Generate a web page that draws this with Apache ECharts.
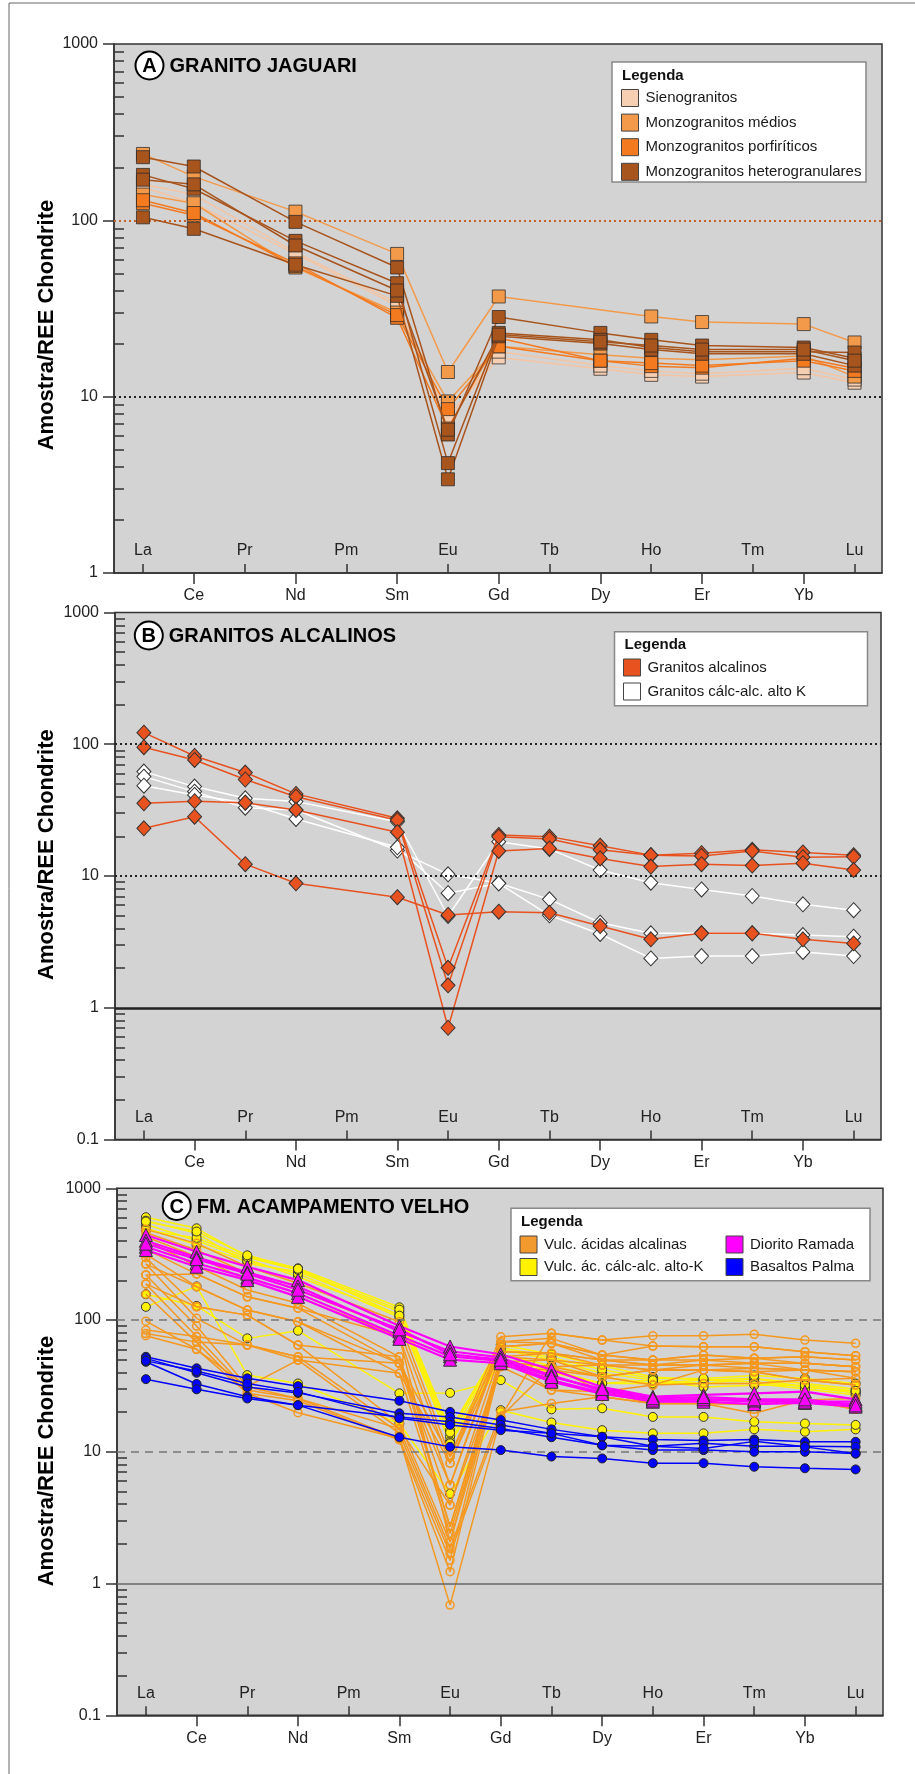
<!DOCTYPE html>
<html><head><meta charset="utf-8">
<script src="https://cdn.jsdelivr.net/npm/echarts@6/dist/echarts.min.js"></script>
<style>html,body{margin:0;padding:0;background:#fff}#c{width:915px;height:1774px}</style>
</head><body><div id="c"></div>
<script>
// ---------- DATA ----------
const REE = ['La','Ce','Pr','Nd','Pm','Sm','Eu','Gd','Tb','Dy','Ho','Er','Tm','Yb','Lu'];
const TOP_ROW = [0,2,4,6,8,10,12,14];      // labels drawn inside the plot
const BOTTOM_ROW = [1,3,5,7,9,11,13];      // labels drawn below the axis
const Y_LABELS_A = [1,10,100,1000];
const Y_LABELS_BC = [0.1,1,10,100,1000];

// Panel A : Granito Jaguari
const A_ELEMENTS = ['La','Ce','Nd','Sm','Eu','Gd','Dy','Ho','Er','Yb','Lu'];
const A_sienogranitos = [
  [154,125,64.5,32.8,7.7,16.7,14.4,13.3,13.0,13.7,12.0],
  [160,140,66,34,7.5,18.0,15.0,14.0,13.5,14.5,12.5]
];
const A_monzo_medios = [
  [238,177,112,64.5,13.8,37,null,28.5,26.5,25.8,20.3],
  [140,125,54,30,9.4,19.3,17.3,16.5,16.2,17.0,13.0]
];
const A_monzo_porfiriticos = [
  [125,107,57,28,6.6,21.5,16.0,14.9,14.6,16.5,14.5],
  [130,110,55,29,8.5,19.3,16.0,15.5,15.0,16.0,14.0]
];
const A_monzo_hetero = [
  [228,202,98,54,6.1,28.3,23,21,19.5,19,16.5],
  [181,151,76.5,44,4.2,23,21,19,18,18,17.8],
  [104,89.5,56,37.3,3.4,22,20,18.5,17.5,17.5,15],
  [170,160,72,40,6.5,22.5,20.5,19.5,18.5,18.5,16]
];

// Panel B : Granitos alcalinos
const BC_ELEMENTS = ['La','Ce','Pr','Nd','Sm','Eu','Gd','Tb','Dy','Ho','Er','Tm','Yb','Lu'];
const B_alcalinos = [
  [122.5,81.5,61,42,27.4,2.01,20.5,19.9,17,14.4,14.9,15.8,15.1,14.4],
  [95,76,54,40,26.5,1.48,19.9,19.1,15.8,14.4,14.2,15.5,13.9,14],
  [35.6,37,36,31.7,21.5,0.705,15.5,16.2,13.6,11.8,12.3,12,12.5,11.1],
  [23,28.2,12.3,8.8,6.9,5.06,5.36,5.26,4.17,3.31,3.67,3.67,3.31,3.08]
];
const B_calcalc_altoK = [
  [62,47.7,38.9,36.7,25.8,4.97,18.2,16,11.1,8.9,7.9,7.05,6.1,5.5],
  [56.8,43.7,33,31.7,15.6,10.3,8.8,6.65,4.42,3.67,3.67,3.67,3.56,3.46],
  [48.5,41.2,36,27.1,16.5,7.4,8.8,5.03,3.63,2.37,2.47,2.47,2.65,2.47]
];

// Panel C : Fm. Acampamento Velho
const C_acidas_alcalinas = [
  [488,382,254,190,97,9.2,74.7,79.3,70.5,76,76,77.9,70.5,66.6],
  [460,340,226,169,84,8.2,68.4,72.6,54.2,63.5,62.7,62.7,57.5,53.6],
  [429,303,201,150,75,5.6,62.7,66.6,49.7,49.7,54.2,51.2,52.6,49.7],
  [405,257,169,134,52.6,3.94,57.5,55.9,45.5,45.5,49.7,46.9,46.9,44.2],
  [344,224,150,123,46.9,2.7,52.6,49.7,37.1,41.7,45.5,43,41.7,40.5],
  [317,179,119,97,39.4,2.4,48.2,44.2,28.6,32.1,41.7,40.5,35,36.1],
  [297,126,109,64.6,16.4,2.07,44.2,29.4,26.2,23.3,23.3,19.6,24.7,25.4],
  [266,103,64.6,52.6,15,1.85,20.1,23.3,26.2,23.3,23.3,23,24.7,21],
  [220,90,31.2,49.7,13.8,1.69,18.4,44.2,45.5,41.7,41.7,40.5,35,32.1],
  [188,75,29.4,25.4,12.6,1.5,52.6,55.9,49.7,45.5,45.5,46.9,41.7,36.1],
  [157,68,27.8,24.4,12.3,1.23,48.2,49.7,45.5,41.7,41.7,43,41.7,40.5],
  [98,60,27.8,19.8,12.6,0.686,18.4,79.3,70.5,63.5,62.7,62.7,57.5,53.6],
  [84,75,64.6,52.6,46.9,9.2,62.7,66.6,54.2,49.7,49.7,51.2,46.9,44.2],
  [79,68,64.6,49.7,39.4,8.2,57.5,55.9,49.7,45.5,45.5,46.9,46.9,44.2],
  [76,60,31.2,25.4,15,3.94,44.2,41.7,37.1,32.1,33,33,35,32.1],
  [266,179,119,97,46.9,5.6,68.4,66.6,54.2,49.7,54.2,51.2,52.6,49.7],
  [188,126,109,64.6,52.6,2.7,48.2,44.2,37.1,41.7,41.7,40.5,41.7,40.5],
  [220,224,150,123,75,2.07,52.6,29.4,28.6,23.3,23.3,23,24.7,21]
];
const C_calcalc_altoK = [
  [603,497,303,247,125,14.6,65,55,45,37,35,36,31,28.6],
  [568,455,269,233,116,13,60,50,39.4,35,33,36,33,30],
  [533,400,290,213,110,12,55,45,37,33,35,34,31.2,28],
  [500,371,280,225,105,11.6,50,41.7,33,33,33,33,30,27],
  [126,180,38.2,33,16.4,4.8,20.7,16.7,14.6,13.8,13.8,14.8,14.2,14.8],
  [157,128,72.6,83,27.8,28,35,21,21.4,18.4,18.4,16.9,16.4,16],
  [480,420,300,240,120,14,62,52,42,36,36,38,36,33],
  [560,470,310,245,108,11.6,48,40,33,35,31,32,32,29]
];
const C_diorito_ramada = [
  [442,330,254,201,90,63,55,42,31,26.2,27,27.8,28.6,25],
  [400,300,230,180,82,58,52,38,29,25,25,24,24,23],
  [360,270,210,160,76,53,49,35,28,24,24,23,23.5,22],
  [340,254,201,150,72,50,47,34,27.5,24.5,25,24.5,24,24],
  [380,290,225,170,85,55,50,37,30,25.5,26,25,25,22.5]
];
const C_basaltos_palma = [
  [52.6,43,36.1,31.5,24.4,20.1,17.4,14.8,13,12.4,12.2,12.4,11.9,11.9],
  [51.2,39.8,31,28,19.6,18.4,16,13.8,13,11,11.6,11,11,10.9],
  [48.2,32.7,26.2,22.6,18.4,16.9,15,12.9,11.2,10.3,10.3,10,10,9.7],
  [49,41,33,28.5,18,16,14.6,13.8,11.2,11,10.6,12,10.9,9.7],
  [35.6,29.8,25.4,22.6,12.9,10.9,10.3,9.2,8.9,8.2,8.2,7.7,7.5,7.35]
];

// ---------- CHART ----------
const FF = "'Liberation Sans', Arial, Helvetica, sans-serif";
const chart = echarts.init(document.getElementById('c'), null, {renderer:'canvas', width:915, height:1774});

const PANELS = [
  {left:114, top:44,    width:768, height:529, ymin:1,   ylabels:Y_LABELS_A},
  {left:115, top:612.5, width:766, height:527, ymin:0.1, ylabels:Y_LABELS_BC},
  {left:117, top:1188.3,width:766, height:527, ymin:0.1, ylabels:Y_LABELS_BC}
];
function minorTicks(min, max){
  const out=[];
  for(let e=Math.round(Math.log10(min)); e<Math.round(Math.log10(max)); e++){
    for(let k=2;k<=9;k++) out.push(+(k*Math.pow(10,e)).toPrecision(3));
  }
  return out;
}
const grid=[], xAxis=[], yAxis=[];
PANELS.forEach((p,g)=>{
  grid.push({left:p.left, top:p.top, width:p.width, height:p.height, show:true,
    backgroundColor:'#d3d3d3', borderColor:'#333', borderWidth:1.5, containLabel:false});
  const fmt = v => REE[Math.round(v)];
  xAxis.push({gridIndex:g, type:'value', min:-0.57, max:14.54, position:'bottom',
    axisLine:{show:true, onZero:false, lineStyle:{color:'#333', width:1.5}},
    axisTick:{show:true, inside:true, length:9, customValues:TOP_ROW, lineStyle:{color:'#333', width:1.5}},
    axisLabel:{show:true, inside:true, margin:14, customValues:TOP_ROW, formatter:fmt,
      fontSize:16, color:'#222', fontFamily:FF},
    splitLine:{show:false}});
  xAxis.push({gridIndex:g, type:'value', min:-0.57, max:14.54, position:'bottom',
    axisLine:{show:false, onZero:false},
    axisTick:{show:true, inside:false, length:11, customValues:BOTTOM_ROW, lineStyle:{color:'#333', width:1.5}},
    axisLabel:{show:true, inside:false, margin:15, customValues:BOTTOM_ROW, formatter:fmt,
      fontSize:16, color:'#222', fontFamily:FF},
    splitLine:{show:false}});
  yAxis.push({gridIndex:g, type:'log', logBase:10, min:p.ymin, max:1000, position:'left',
    axisLine:{show:true, onZero:false, lineStyle:{color:'#333', width:1.5}},
    axisTick:{show:true, inside:false, length:11, customValues:p.ylabels, lineStyle:{color:'#333', width:1.5}},
    axisLabel:{show:true, margin:16, customValues:p.ylabels, fontSize:16, color:'#222', fontFamily:FF,
      formatter: v => v>=1 ? String(Math.round(v)) : v.toFixed(1)},
    splitLine:{show:false}});
  yAxis.push({gridIndex:g, type:'log', logBase:10, min:p.ymin, max:1000, position:'left',
    axisLine:{show:false, onZero:false},
    axisTick:{show:true, inside:true, length:10, customValues:minorTicks(p.ymin,1000), lineStyle:{color:'#333', width:1.5}},
    axisLabel:{show:false}, splitLine:{show:false}});
});

const series=[];
function refLines(g, lines){
  series.push({type:'line', xAxisIndex:2*g, yAxisIndex:2*g, data:[], silent:true, z:1,
    markLine:{silent:true, symbol:['none','none'], label:{show:false}, animation:false,
      data: lines.map(l=>({yAxis:l.v, lineStyle:l.style}))}});
}
function addGroup(g, name, samples, elements, st){
  samples.forEach(s=>{
    series.push({type:'line', name, xAxisIndex:2*g, yAxisIndex:2*g,
      data: s.map((v,i)=> v==null?null:[REE.indexOf(elements[i]), v]).filter(d=>d),
      symbol:st.symbol, symbolSize:st.size, showSymbol:true,
      itemStyle:{color:st.fill, borderColor:st.border, borderWidth:st.bw},
      lineStyle:{color:st.line, width:st.lw},
      emphasis:{disabled:true}, z:st.z});
  });
}
// reference lines
refLines(0,[{v:100, style:{color:'#c4622a', type:[2,3], width:1.8}},
            {v:10,  style:{color:'#222',    type:[2,3], width:1.8}}]);
refLines(1,[{v:100, style:{color:'#222', type:[2,3], width:1.8}},
            {v:10,  style:{color:'#222', type:[2,3], width:1.8}},
            {v:1,   style:{color:'#222', type:'solid', width:2.5}}]);
refLines(2,[{v:100, style:{color:'#777', type:[8,6], width:1.5}},
            {v:10,  style:{color:'#777', type:[8,6], width:1.5}},
            {v:1,   style:{color:'#666', type:'solid', width:1.5}}]);

const COL = {
  sieno:'#f6cfb3', medio:'#f39a4a', porf:'#f47a1f', hetero:'#a8541d',
  alc:'#e8521f', calc:'#ffffff',
  acid:'#f5981f', yel:'#fff200', mag:'#ff00ff', blue:'#0000ff'
};
const SQ = {symbol:'rect', size:13, border:'rgba(40,40,40,0.75)', bw:1, lw:1.5};
addGroup(0,'Sienogranitos', A_sienogranitos, A_ELEMENTS, {...SQ, fill:COL.sieno, line:'#f5c4a2', z:3});
addGroup(0,'Monzogranitos médios', A_monzo_medios, A_ELEMENTS, {...SQ, fill:COL.medio, line:COL.medio, z:4});
addGroup(0,'Monzogranitos porfiríticos', A_monzo_porfiriticos, A_ELEMENTS, {...SQ, fill:COL.porf, line:COL.porf, z:4});
addGroup(0,'Monzogranitos heterogranulares', A_monzo_hetero, A_ELEMENTS, {...SQ, fill:COL.hetero, line:COL.hetero, z:5});

const DI = {symbol:'diamond', size:[14,15], border:'#333', bw:1, lw:1.5};
addGroup(1,'Granitos cálc-alc. alto K', B_calcalc_altoK, BC_ELEMENTS, {...DI, fill:'#fff', line:'#fff', z:3});
addGroup(1,'Granitos alcalinos', B_alcalinos, BC_ELEMENTS, {...DI, fill:COL.alc, line:COL.alc, z:4});

addGroup(2,'Vulc. ác. cálc-alc. alto-K', C_calcalc_altoK, BC_ELEMENTS,
  {symbol:'circle', size:9, fill:COL.yel, border:'#333', bw:1, line:COL.yel, lw:1.5, z:3});
addGroup(2,'Vulc. ácidas alcalinas', C_acidas_alcalinas, BC_ELEMENTS,
  {symbol:'circle', size:8, fill:'rgba(0,0,0,0)', border:COL.acid, bw:1.5, line:COL.acid, lw:1.5, z:4});
addGroup(2,'Basaltos Palma', C_basaltos_palma, BC_ELEMENTS,
  {symbol:'circle', size:9, fill:COL.blue, border:'#222', bw:1, line:COL.blue, lw:1.5, z:5});
addGroup(2,'Diorito Ramada', C_diorito_ramada, BC_ELEMENTS,
  {symbol:'triangle', size:13, fill:COL.mag, border:'#333', bw:1, line:COL.mag, lw:2.2, z:6});

// legends
const LT = {fontSize:15, color:'#1a1a1a', fontFamily:FF, padding:[0,0,0,2]};
function leg(left, top, gap, items){
  return {left, top, orient:'vertical', itemWidth:17, itemHeight:17, itemGap:gap, padding:0,
    icon:'rect', selectedMode:false, textStyle:LT, z:120,
    data: items.map(it=>({name:it[0], icon:'rect',
      itemStyle:{color:it[1], borderColor:'#444', borderWidth:1, opacity:1}}))};
}
const legend = [
  leg(621, 89, 6.6, [['Sienogranitos',COL.sieno],['Monzogranitos médios',COL.medio],
    ['Monzogranitos porfiríticos',COL.porf],['Monzogranitos heterogranulares',COL.hetero]]),
  leg(623, 658.5, 6, [['Granitos alcalinos',COL.alc],['Granitos cálc-alc. alto K','#fff']]),
  leg(519.5, 1235.5, 4.5, [['Vulc. ácidas alcalinas','#f39a2e'],['Vulc. ác. cálc-alc. alto-K',COL.yel]]),
  leg(725.5, 1235.5, 4.5, [['Diorito Ramada',COL.mag],['Basaltos Palma',COL.blue]])
];

// graphic: frame, titles, axis names, legend boxes
const G = [];
G.push({type:'line', shape:{x1:9, y1:3, x2:915, y2:3}, style:{stroke:'#666', lineWidth:1}, z:0});
G.push({type:'line', shape:{x1:9, y1:3, x2:9, y2:1774}, style:{stroke:'#666', lineWidth:1}, z:0});
function title(cx, cy, letter, text){
  G.push({type:'circle', shape:{cx, cy, r:14}, style:{fill:'#fff', stroke:'#000', lineWidth:2}, z:100});
  G.push({type:'text', x:cx, y:cy+1, style:{text:letter, fontSize:20, fontWeight:'bold', fontFamily:FF,
    fill:'#000', align:'center', verticalAlign:'middle'}, z:101});
  G.push({type:'text', x:cx+20, y:cy+1, style:{text, fontSize:20, fontWeight:'bold', fontFamily:FF,
    fill:'#000', align:'left', verticalAlign:'middle'}, z:101});
}
title(149.5, 65.5, 'A', 'GRANITO JAGUARI');
title(148.8, 635.5, 'B', 'GRANITOS ALCALINOS');
title(176.7, 1206, 'C', 'FM. ACAMPAMENTO VELHO');
[[47,325],[47,854.6],[47,1461]].forEach(([x,y])=>{
  G.push({type:'text', x, y, rotation:Math.PI/2, style:{text:'Amostra/REE Chondrite', fontSize:22,
    fontWeight:'bold', fontFamily:FF, fill:'#000', align:'center', verticalAlign:'middle'}, z:100});
});
function legBox(x, y, w, h){
  G.push({type:'rect', shape:{x, y, width:w, height:h}, style:{fill:'#fff', stroke:'#888', lineWidth:1.5}, z:110});
  G.push({type:'text', x:x+10, y:y+13.5, style:{text:'Legenda', fontSize:15, fontWeight:'bold', fontFamily:FF,
    fill:'#111', align:'left', verticalAlign:'middle'}, z:111});
}
legBox(612, 62, 254, 120);
legBox(614.5, 631.8, 253, 74);
legBox(511, 1208.3, 359, 72.4);

chart.setOption({
  animation:false,
  grid, xAxis, yAxis, series, legend, graphic:G
});
</script>
</body></html>
